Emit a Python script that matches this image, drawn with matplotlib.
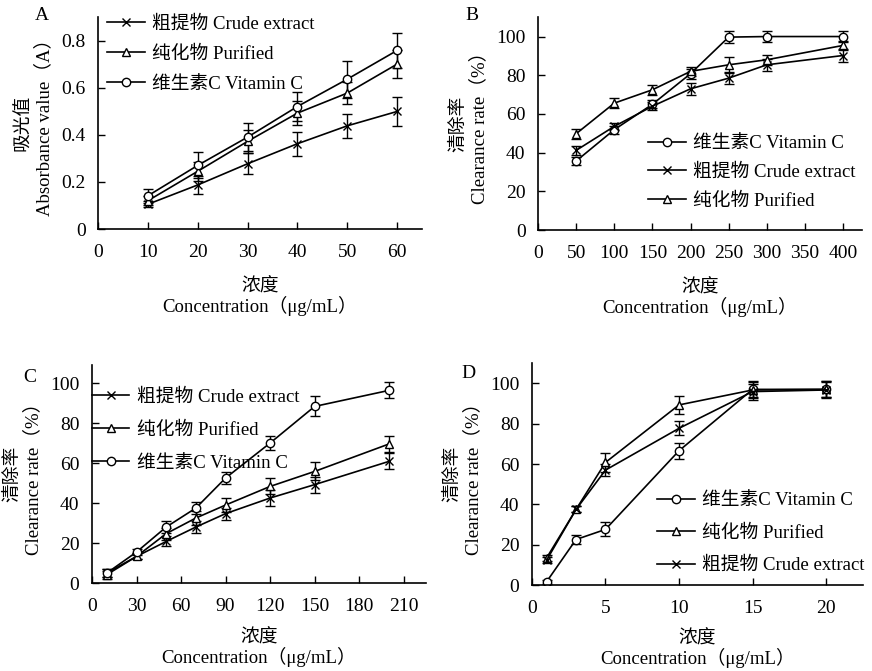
#!/usr/bin/env python3
import matplotlib
matplotlib.use('Agg')
import matplotlib.pyplot as plt

FONT = ['Liberation Serif', 'Noto Sans CJK SC']
plt.rcParams['font.family'] = FONT
plt.rcParams['font.size'] = 13.5
plt.rcParams['axes.unicode_minus'] = False

# Panel A: absorbance
a_x = [10, 20, 30, 40, 50, 60]
a_crude = [0.105, 0.187, 0.277, 0.362, 0.438, 0.499]
a_crude_err = [0.012, 0.04, 0.045, 0.05, 0.05, 0.06]
a_pur = [0.12, 0.245, 0.372, 0.492, 0.577, 0.70]
a_pur_err = [0.02, 0.04, 0.05, 0.05, 0.045, 0.06]
a_vc = [0.141, 0.27, 0.39, 0.52, 0.636, 0.758]
a_vc_err = [0.03, 0.055, 0.06, 0.06, 0.078, 0.076]

# Panel B
b_x = [50, 100, 150, 200, 250, 300, 400]
b_vc = [35.7, 51.9, 65.0, 80.8, 99.7, 100.0, 100.0]
b_vc_err = [2, 2, 2, 2.5, 3, 3, 3]
b_crude = [41.2, 53.6, 64.0, 73.0, 78.5, 85.4, 90.2]
b_crude_err = [2.5, 2, 2, 3, 3, 3, 3.5]
b_pur = [49.8, 65.6, 72.5, 82.0, 85.4, 88.0, 95.4]
b_pur_err = [2.5, 2.5, 2.5, 2.5, 4, 2.5, 2.5]

# Panel C
c_x = [10, 30, 50, 70, 90, 120, 150, 200]
c_crude = [5.0, 13.3, 20.8, 28.0, 34.7, 42.5, 49.2, 60.8]
c_crude_err = [2, 1.5, 2.5, 3, 3, 4, 4, 4]
c_pur = [4.2, 13.3, 24.7, 32.5, 39.0, 48.3, 55.8, 69.5]
c_pur_err = [2, 1.5, 3, 3.5, 3.5, 4, 4.5, 4]
c_vc = [5.0, 15.5, 28.0, 37.5, 52.5, 70.0, 88.3, 96.3]
c_vc_err = [2, 1.5, 3, 3, 3, 3.5, 5, 4]

# Panel D
d_x = [1, 3, 5, 10, 15, 20]
d_vc = [1.7, 22.6, 27.6, 66.6, 97.0, 97.0]
d_vc_err = [1, 2, 3.5, 4, 4, 4]
d_pur = [13.5, 37.5, 60.8, 89.3, 96.7, 97.0]
d_pur_err = [1.5, 1.5, 4.5, 4.5, 4, 4]
d_crude = [12.4, 37.5, 57.0, 77.7, 95.9, 96.7]
d_crude_err = [1.5, 1.5, 3, 3.5, 4, 4]

LBL_CRUDE = '粗提物 Crude extract'
LBL_PUR = '纯化物 Purified'
LBL_VC = '维生素C Vitamin C'
XLABEL = '浓度\nConcentration（μg/mL）'
YLABEL = '清除率\nClearance rate（%）'


def draw(ax, x, y, err, marker, ms=6):
    cont = ax.errorbar(x, y, yerr=err, fmt='-', marker=marker, color='black',
                       mfc='white', mec='black', ms=ms, lw=1.2, elinewidth=1.0,
                       capsize=3.5, capthick=1.0)
    return cont[0]


def style(ax, xticks, yticks, xlim, ylim, ylabel, ytick_labels=None, xpad=12):
    ax.spines['top'].set_visible(False)
    ax.spines['right'].set_visible(False)
    ax.spines['left'].set_linewidth(1.2)
    ax.spines['bottom'].set_linewidth(1.2)
    ax.set_xlim(*xlim)
    ax.set_ylim(*ylim)
    ax.set_xticks(xticks)
    ax.set_yticks(yticks)
    if ytick_labels is not None:
        ax.set_yticklabels(ytick_labels)
    ax.tick_params(direction='in', length=5, width=1.0, labelsize=14)
    ax.tick_params(axis='x', pad=11)
    ax.tick_params(axis='y', pad=9)
    ax.set_xlabel(XLABEL, linespacing=1.05, labelpad=xpad)
    ax.set_ylabel(ylabel, linespacing=1.2, labelpad=6)


def legend(ax, handles, labels, spacing, anchor):
    ax.legend(handles, labels, frameon=False, handlelength=2.0,
              handletextpad=0.4, labelspacing=spacing, loc='upper left',
              bbox_to_anchor=anchor, borderaxespad=0, borderpad=0)


fig = plt.figure(figsize=(8.72, 6.71), dpi=100)
ax_a = fig.add_axes([0.1124, 0.6587, 0.3716, 0.316])
ax_b = fig.add_axes([0.617, 0.657, 0.3716, 0.3174])
ax_c = fig.add_axes([0.1055, 0.1311, 0.383, 0.3249])
ax_d = fig.add_axes([0.610, 0.128, 0.3796, 0.3308])

# A
h1 = draw(ax_a, a_x, a_crude, a_crude_err, 'x')
h2 = draw(ax_a, a_x, a_pur, a_pur_err, '^')
h3 = draw(ax_a, a_x, a_vc, a_vc_err, 'o')
style(ax_a, [0, 10, 20, 30, 40, 50, 60], [0, 0.2, 0.4, 0.6, 0.8],
      (0, 65), (0, 0.9), '吸光值\nAbsorbance value（A）',
      ['0', '0.2', '0.4', '0.6', '0.8'])
legend(ax_a, [h1, h2, h3], [LBL_CRUDE, LBL_PUR, LBL_VC], 0.7, (0.028, 1.010))

# B
h1 = draw(ax_b, b_x, b_vc, b_vc_err, 'o')
h2 = draw(ax_b, b_x, b_crude, b_crude_err, 'x')
h3 = draw(ax_b, b_x, b_pur, b_pur_err, '^')
style(ax_b, [0, 50, 100, 150, 200, 250, 300, 350, 400],
      [0, 20, 40, 60, 80, 100], (0, 425), (0, 110), YLABEL)
legend(ax_b, [h1, h2, h3], [LBL_VC, LBL_CRUDE, LBL_PUR], 0.6, (0.34, 0.446))

# C
h1 = draw(ax_c, c_x, c_crude, c_crude_err, 'x')
h2 = draw(ax_c, c_x, c_pur, c_pur_err, '^')
h3 = draw(ax_c, c_x, c_vc, c_vc_err, 'o')
style(ax_c, [0, 30, 60, 90, 120, 150, 180, 210],
      [0, 20, 40, 60, 80, 100], (0, 225), (0, 109), YLABEL, xpad=10)
legend(ax_c, [h1, h2, h3], [LBL_CRUDE, LBL_PUR, LBL_VC], 0.85, (0.0, 0.894))

# D
h1 = draw(ax_d, d_x, d_vc, d_vc_err, 'o')
h2 = draw(ax_d, d_x, d_pur, d_pur_err, '^')
h3 = draw(ax_d, d_x, d_crude, d_crude_err, 'x')
style(ax_d, [0, 5, 10, 15, 20], [0, 20, 40, 60, 80, 100],
      (0, 22.5), (0, 110), YLABEL, xpad=9)
legend(ax_d, [h1, h2, h3], [LBL_VC, LBL_PUR, LBL_CRUDE], 0.8, (0.378, 0.4185))

# panel letters
fig.text(42 / 872, 1 - 15 / 671, 'A', ha='center', va='center', fontsize=14)
fig.text(472 / 872, 1 - 15 / 671, 'B', ha='center', va='center', fontsize=14)
fig.text(30 / 872, 1 - 378 / 671, 'C', ha='center', va='center', fontsize=14)
fig.text(468 / 872, 1 - 373 / 671, 'D', ha='center', va='center', fontsize=14)

fig.savefig('out.png', dpi=100)
